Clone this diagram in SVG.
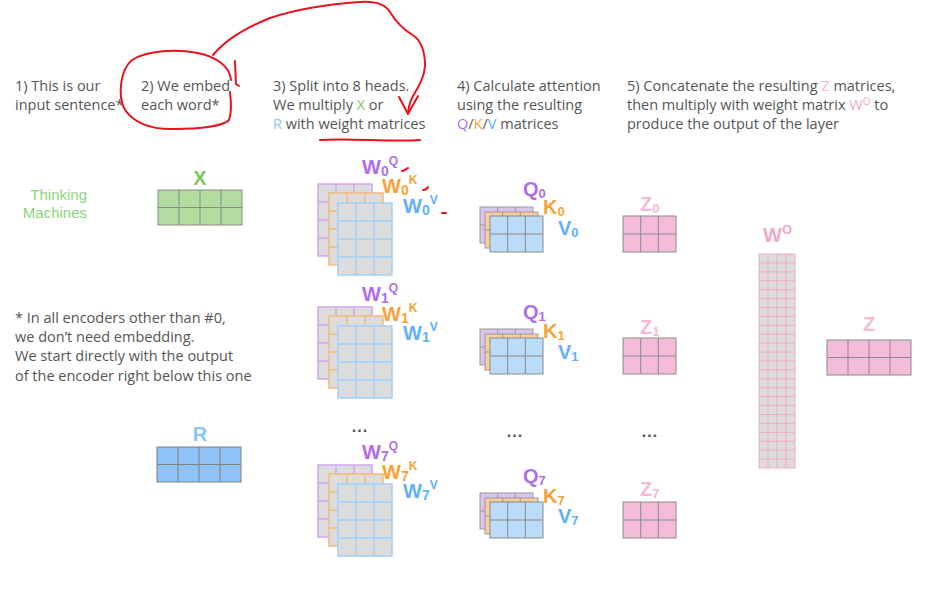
<svg xmlns="http://www.w3.org/2000/svg" xmlns:xlink="http://www.w3.org/1999/xlink" width="925" height="615" viewBox="0 0 925 615">
<style>
.t{font-family:"Open Sans","Liberation Sans",sans-serif;font-size:14.5px;fill:#555}
.lb{font-family:"Liberation Sans",Arial,sans-serif;font-size:20px;font-weight:bold}
.pu{fill:#b06ee6}.or{fill:#f7a13a}.bl{fill:#62b0f7}.gr{fill:#7cc65c}.pk{fill:#f6b8d6}.pk2{fill:#f3a6cb}
.red{fill:none;stroke:#e8141c;stroke-width:2;stroke-linecap:round;stroke-linejoin:round}
.gx{fill:#b2dca0;stroke:#8a8a8a;stroke-width:1}
.gR{fill:#8fc3f5;stroke:#7f7f7f;stroke-width:1}
.gZ{fill:#f4bcd8;stroke:#8a8a8a;stroke-width:1}
.qp{fill:#d9c3ef;stroke:#9a9a9a;stroke-width:1}
.qo{fill:#f8cd9c;stroke:#9a9a9a;stroke-width:1}
.qb{fill:#badcf8;stroke:#8a8a8a;stroke-width:1}
.wp{fill:#dcdcdc;stroke:#cfa5ee;stroke-width:1.5}
.wo{fill:#dcdcdc;stroke:#f5bb78;stroke-width:1.5}
.wb{fill:#dcdcdc;stroke:#a3d0f7;stroke-width:1.5}
.wO{fill:#dcdcdc;stroke:#f3a9cb;stroke-width:1}
.dots{font-family:"Liberation Sans",Arial,sans-serif;font-size:16px;font-weight:bold;fill:#555;letter-spacing:1px}
</style>
<defs>
<symbol id="g4x2" overflow="visible"><rect x="0" y="0" width="84" height="35"/><path d="M21 0V35M42 0V35M63 0V35M0 17.5H84"/></symbol>
<symbol id="g3x4" overflow="visible"><rect x="0" y="0" width="54" height="72"/><path d="M18 0V72M36 0V72M0 18H54M0 36H54M0 54H54"/></symbol>
<symbol id="g3x2" overflow="visible"><rect x="0" y="0" width="53" height="36"/><path d="M17.7 0V36M35.3 0V36M0 18H53"/></symbol>
<symbol id="gWO" overflow="visible"><rect x="0" y="0" width="36" height="214"/><path d="M9 0V214M18 0V214M27 0V214M0 8.92H36M0 17.83H36M0 26.75H36M0 35.67H36M0 44.58H36M0 53.5H36M0 62.42H36M0 71.33H36M0 80.25H36M0 89.17H36M0 98.08H36M0 107H36M0 115.92H36M0 124.83H36M0 133.75H36M0 142.67H36M0 151.58H36M0 160.5H36M0 169.42H36M0 178.33H36M0 187.25H36M0 196.17H36M0 205.08H36"/></symbol>
</defs>

<g id="header">
<text class="t" x="15" y="91">1) This is our</text>
<text class="t" x="15" y="110">input sentence*</text>
<text class="t" x="141" y="91">2) We embed</text>
<text class="t" x="141" y="110">each word*</text>
<text class="t" x="273" y="91">3) Split into 8 heads.</text>
<text class="t" x="273" y="110">We multiply <tspan class="gr">X</tspan> or</text>
<text class="t" x="273" y="129"><tspan style="fill:#8cc4f5">R</tspan> with weight matrices</text>
<text class="t" x="457" y="91">4) Calculate attention</text>
<text class="t" x="457" y="110">using the resulting</text>
<text class="t" x="457" y="129"><tspan class="pu">Q</tspan>/<tspan class="or">K</tspan>/<tspan class="bl">V</tspan> matrices</text>
<text class="t" x="627" y="91">5) Concatenate the resulting <tspan class="pk">Z</tspan> matrices,</text>
<text class="t" x="627" y="110">then multiply with weight matrix <tspan class="pk2">W<tspan font-size="10" dy="-5">O</tspan></tspan><tspan dy="5"> to</tspan></text>
<text class="t" x="627" y="129">produce the output of the layer</text>
</g>

<g id="footnote">
<text class="t" x="15" y="323">* In all encoders other than #0,</text>
<text class="t" x="15" y="342">we don’t need embedding.</text>
<text class="t" x="15" y="361">We start directly with the output</text>
<text class="t" x="15" y="381">of the encoder right below this one</text>
</g>

<g id="sentence">
<text x="87" y="200" text-anchor="end" style="font-family:'Liberation Sans',Arial,sans-serif;font-size:15px;fill:#8fd27c">Thinking</text>
<text x="87" y="218" text-anchor="end" style="font-family:'Liberation Sans',Arial,sans-serif;font-size:15px;fill:#8fd27c">Machines</text>
</g>

<g id="X">
<text class="lb gr" x="200" y="185" text-anchor="middle">X</text>
<use xlink:href="#g4x2" x="158" y="190" class="gx"/>
</g>

<g id="R">
<text class="lb" x="200" y="441" text-anchor="middle" style="fill:#8cc4f5">R</text>
<use xlink:href="#g4x2" x="157" y="447" class="gR"/>
</g>

<g id="W0">
<use xlink:href="#g3x4" x="318" y="184" class="wp"/>
<use xlink:href="#g3x4" x="329" y="193" class="wo"/>
<use xlink:href="#g3x4" x="338" y="203" class="wb"/>
<text class="lb pu" x="362" y="174">W<tspan font-size="14" dy="2">0</tspan><tspan font-size="12" dy="-11">Q</tspan></text>
<text class="lb or" x="382" y="193">W<tspan font-size="14" dy="2">0</tspan><tspan font-size="12" dy="-11">K</tspan></text>
<text class="lb bl" x="403" y="213">W<tspan font-size="14" dy="2">0</tspan><tspan font-size="12" dy="-11">V</tspan></text>
</g>

<g id="W1">
<use xlink:href="#g3x4" x="318" y="307" class="wp"/>
<use xlink:href="#g3x4" x="329" y="316" class="wo"/>
<use xlink:href="#g3x4" x="338" y="326" class="wb"/>
<text class="lb pu" x="362" y="301">W<tspan font-size="14" dy="2">1</tspan><tspan font-size="12" dy="-11">Q</tspan></text>
<text class="lb or" x="382" y="321">W<tspan font-size="14" dy="2">1</tspan><tspan font-size="12" dy="-11">K</tspan></text>
<text class="lb bl" x="403" y="340">W<tspan font-size="14" dy="2">1</tspan><tspan font-size="12" dy="-11">V</tspan></text>
</g>

<g id="W7">
<text class="dots" x="360" y="432" text-anchor="middle">...</text>
<use xlink:href="#g3x4" x="318" y="465" class="wp"/>
<use xlink:href="#g3x4" x="329" y="474" class="wo"/>
<use xlink:href="#g3x4" x="338" y="484" class="wb"/>
<text class="lb pu" x="362" y="459">W<tspan font-size="14" dy="2">7</tspan><tspan font-size="12" dy="-11">Q</tspan></text>
<text class="lb or" x="382" y="479">W<tspan font-size="14" dy="2">7</tspan><tspan font-size="12" dy="-11">K</tspan></text>
<text class="lb bl" x="403" y="498">W<tspan font-size="14" dy="2">7</tspan><tspan font-size="12" dy="-11">V</tspan></text>
</g>

<g id="QKV0">
<use xlink:href="#g3x2" x="480" y="207" class="qp"/>
<use xlink:href="#g3x2" x="485" y="212" class="qo"/>
<use xlink:href="#g3x2" x="490" y="216" class="qb"/>
<text class="lb pu" x="523" y="196">Q<tspan font-size="13" dy="2">0</tspan></text>
<text class="lb or" x="543" y="214">K<tspan font-size="13" dy="2">0</tspan></text>
<text class="lb bl" x="558" y="235">V<tspan font-size="13" dy="2">0</tspan></text>
</g>

<g id="QKV1">
<use xlink:href="#g3x2" x="480" y="329" class="qp"/>
<use xlink:href="#g3x2" x="485" y="334" class="qo"/>
<use xlink:href="#g3x2" x="490" y="338" class="qb"/>
<text class="lb pu" x="523" y="319">Q<tspan font-size="13" dy="2">1</tspan></text>
<text class="lb or" x="543" y="338">K<tspan font-size="13" dy="2">1</tspan></text>
<text class="lb bl" x="558" y="359">V<tspan font-size="13" dy="2">1</tspan></text>
</g>

<g id="QKV7">
<text class="dots" x="515" y="437" text-anchor="middle">...</text>
<use xlink:href="#g3x2" x="480" y="493" class="qp"/>
<use xlink:href="#g3x2" x="485" y="498" class="qo"/>
<use xlink:href="#g3x2" x="490" y="502" class="qb"/>
<text class="lb pu" x="523" y="483">Q<tspan font-size="13" dy="2">7</tspan></text>
<text class="lb or" x="543" y="503">K<tspan font-size="13" dy="2">7</tspan></text>
<text class="lb bl" x="558" y="523">V<tspan font-size="13" dy="2">7</tspan></text>
</g>

<g id="Z0">
<text class="lb pk" x="640" y="211">Z<tspan font-size="13" dy="2">0</tspan></text>
<use xlink:href="#g3x2" x="623" y="216" class="gZ"/>
</g>
<g id="Z1">
<text class="lb pk" x="640" y="334">Z<tspan font-size="13" dy="2">1</tspan></text>
<use xlink:href="#g3x2" x="623" y="338" class="gZ"/>
</g>
<g id="Z7">
<text class="dots" x="650" y="437" text-anchor="middle">...</text>
<text class="lb pk" x="640" y="496">Z<tspan font-size="13" dy="2">7</tspan></text>
<use xlink:href="#g3x2" x="623" y="502" class="gZ"/>
</g>

<g id="WO">
<text class="lb pk2" x="763" y="242">W<tspan font-size="13" dy="-8">O</tspan></text>
<use xlink:href="#gWO" x="759" y="254" class="wO"/>
</g>

<g id="Z">
<text class="lb pk" x="869" y="331" text-anchor="middle">Z</text>
<use xlink:href="#g4x2" x="827" y="340" class="gZ"/>
</g>

<g id="annotations">
<path class="red" d="M231 80 C230 66 216 57 198 53 C176 49 148 50 132 60 C120 70 118 95 124 108 C132 122 150 130 175 129 C200 129 224 126 229 120 C232 112 231 100 230 92"/>
<path class="red" d="M213 55 C222 44 240 30 270 18 C300 8 330 4 360 2 C375 1 385 4 390 12 C396 22 404 30 414 36 C422 42 425 52 425 66 C424 80 416 90 411 100 C409 106 408 110 408 114"/>
<path class="red" d="M399 97 L408 114 L418 96"/>
<path class="red" d="M235 61 L236 84 L239 86"/>
<path class="red" d="M320 140 C350 138 390 142 420 140"/>
<path class="red" d="M402 171 C404 170 406 170 408 168"/>
<path class="red" d="M423 190 C425 190 427 189 428 187"/>
<path class="red" d="M442 213 L446 213"/>
</g>
</svg>
